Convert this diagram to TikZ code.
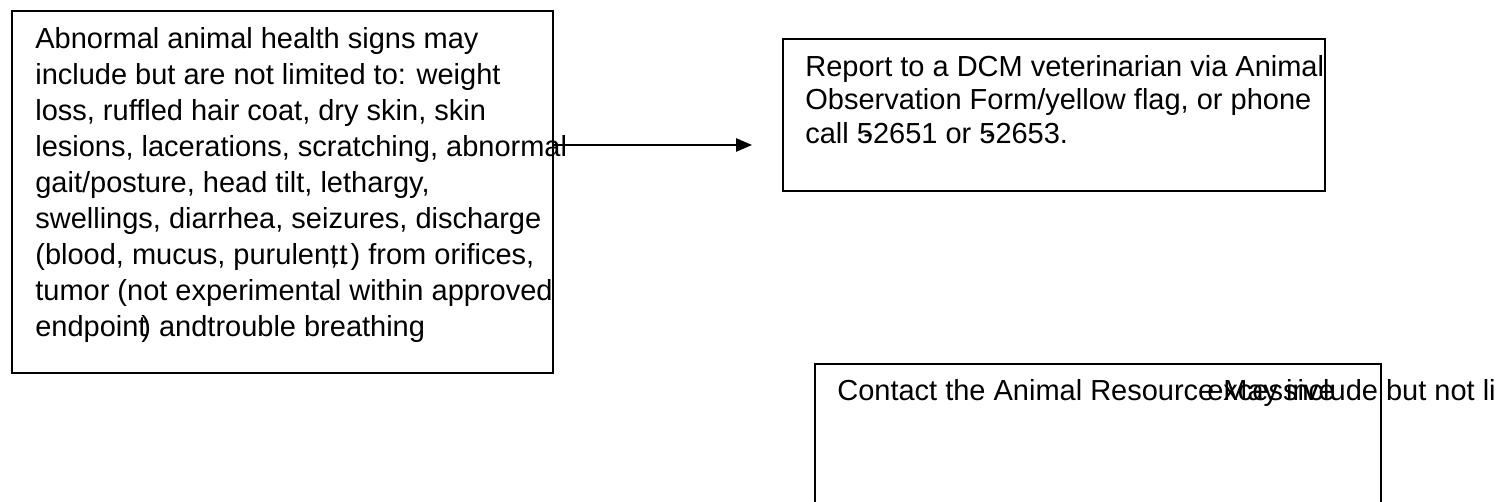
\documentclass[tikz,border=0pt]{standalone}
\usepackage{fontspec}
\setmainfont{Liberation Sans}
\usetikzlibrary{arrows.meta}

\begin{document}
\begin{tikzpicture}
[
x=0.02cm, y=-0.02cm,
inner sep=0pt,
frame/.style={rectangle, draw=black, line width=0.95pt, anchor=north west},
txt/.style={anchor=north west, align=left, font=\fontsize{16.5}{18.97}\selectfont},
widetxt/.style={txt, font=\fontsize{16.5}{20.5}\selectfont},
arrow/.style={line width=0.95pt, -{Triangle[length=9pt, width=7.5pt]}},
]
%
\useasboundingbox (0,0) rectangle (1503,502);
\clip (0,0) rectangle (1503,502);

% the three boxes
\node [frame, minimum width=10.82cm, minimum height=7.24cm] (signs)   at (11,10)  {};
\node [frame, minimum width=10.84cm, minimum height=3.04cm] (report)  at (782,38) {};
\node [frame, minimum width=11.32cm, minimum height=4.00cm] (contact) at (814,363) {};

% texts
\node [widetxt] (signstext) at (35,27) {Abnormal animal health signs may\\
include but are not limited to: weight\\
loss, ruffled hair coat, dry skin, skin\\
lesions, lacerations, scratching, abnormal\\
gait/posture, head tilt, lethargy,\\
swellings, diarrhea, seizures, discharge\\
(blood, mucus, purulen\rlap{,}t\rlap{.}\kern0.05em t\kern0.1em) from orifices,\\
tumor (not experimental within approved\\
endpoin\rlap{t}\kern0.1em) andtrouble breathing};

\node [txt] (reporttext) at (805,55) {Report to a DCM veterinarian via Animal\\
Observation Form/yellow flag, or phone\\
call 5\llap{-}2651 or 5\llap{-}2653.};

\node [txt, anchor=base west] (contacttext) at (837,401)  {Contact the Animal Resource};
\node [txt, anchor=base west] (excesstext)  at (1207,401) {excessive};
\node [txt, anchor=base west] (maytext)     at (1223,401) {May include but not li};

% connector
\coordinate (tip) at (752,145);
\draw [arrow] (signs.east |- tip) -- (tip);
%
\end{tikzpicture}
\end{document}
